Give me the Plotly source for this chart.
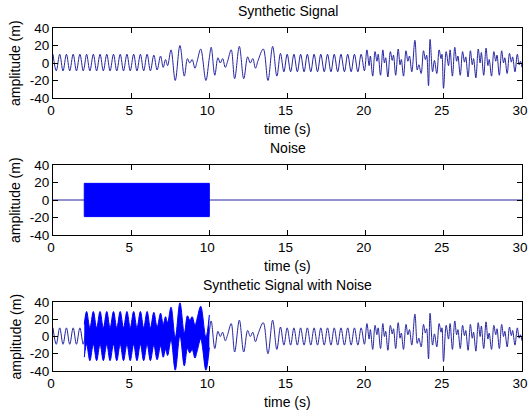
import plotly.graph_objects as go

# Turning points of the synthetic signal (time in s, amplitude in m)
sig_t = [
    0.00, 0.21, 0.43, 0.64, 0.86, 1.07, 1.29, 1.50, 1.72, 1.93, 2.00, 2.15,
    2.36, 2.58, 2.79, 3.01, 3.22, 3.44, 3.65, 3.87, 4.08, 4.30, 4.51, 4.73,
    4.94, 5.16, 5.37, 5.59, 5.80, 6.02, 6.23, 6.45, 6.66, 6.88, 7.05, 7.20,
    7.33, 7.55, 7.82, 8.12, 8.40, 8.60, 8.75, 8.90, 9.08, 9.22, 9.45, 9.78,
    10.00, 10.12, 10.35, 10.55, 10.70, 10.85, 11.02, 11.17, 11.40, 11.62, 11.92, 12.20,
    12.45, 12.62, 12.78, 12.95, 13.12, 13.45, 13.75, 14.05, 14.32, 14.55, 14.77, 14.98,
    15.20, 15.41, 15.63, 15.84, 16.06, 16.27, 16.49, 16.70, 16.92, 17.13, 17.35, 17.56,
    17.78, 17.99, 18.21, 18.42, 18.64, 18.85, 19.07, 19.28, 19.50, 19.71, 19.92, 20.08,
    20.22, 20.30, 20.45, 20.60, 20.72, 20.80, 20.95, 21.10, 21.20, 21.28, 21.42, 21.58,
    21.70, 21.78, 21.92, 22.08, 22.20, 22.28, 22.42, 22.58, 22.70, 22.80, 22.95, 23.15,
    23.30, 23.40, 23.55, 23.70, 23.82, 23.90, 24.02, 24.12, 24.28, 24.40, 24.55, 24.70,
    24.82, 24.88, 24.98, 25.15, 25.30, 25.40, 25.55, 25.70, 25.82, 25.90, 26.05, 26.20,
    26.32, 26.40, 26.55, 26.70, 26.82, 26.90, 27.05, 27.20, 27.32, 27.40, 27.55, 27.70,
    27.82, 27.90, 28.05, 28.20, 28.32, 28.40, 28.55, 28.70, 28.82, 28.90, 29.05, 29.20,
    29.32, 29.40, 29.55, 29.70, 29.82, 29.90, 30.00,
]
sig_v = [
    10, -9, 10, -9, 10, -9, 10, -9, 10, -9, -5, 10,
    -9, 10, -9, 10, -9, 10, -9, 10, -9, 10, -9, 10,
    -9, 10, -9, 10, -9, 10, -9, 9, -8, 8, -5, 4,
    -3, 15, -20, 20, -15, 5, 0, 4, -6, 2, 16, -20,
    6, 18, -14, 6, 0, 5, -5, 2, 15, -18, 19, -18,
    7, 0, 5, -6, 3, 16, -20, 19, -15, 11, -10, 10,
    -10, 10, -10, 10, -10, 10, -10, 10, -10, 10, -10, 10,
    -10, 10, -10, 10, -10, 10, -10, 10, -10, 10, -9, 15,
    -3, 8, -15, 13, 2, 10, -14, 15, 0, 6, -16, 13,
    3, 9, -14, 16, -2, 4, -15, 14, 2, 8, -10, 26,
    -8, -2, -12, 14, 4, 9, -26, 27, -10, 3, -12, 15,
    5, 10, -29, 13, -3, 15, -15, 18, 2, 8, -14, 13,
    1, 7, -16, 14, -2, 5, -17, 16, 0, 12, -14, 17,
    -3, 4, -15, 13, 2, 9, -14, 14, 0, 6, -12, 11,
    1, 7, -10, 10, -2, 2, -5,
]

# Noise burst: active window (s) and peak amplitude (m)
noise_window = [2.0, 10.0]
noise_amp = 19

time_range = [0, 30]
amp_range = [-40, 40]
x_ticks = [0, 5, 10, 15, 20, 25, 30]
y_ticks = [-40, -20, 0, 20, 40]
y_tick_text = ["-40", "-20", "0", "20", "40"]
panel_titles = ["Synthetic Signal", "Noise", "Synthetic Signal with Noise"]
x_title = "time (s)"
y_title = "amplitude (m)"

W, H = 529, 414
FONT = "Liberation Sans, Arial, sans-serif"
THIN = "#2424a0"
SOLID = "#0000ff"

# panel boxes in pixels: (top, bottom)
boxes = [(28, 98), (165, 235), (302, 371)]
x_px = (53, 522)

fig = go.Figure()

# Panel 1: clean signal
fig.add_trace(go.Scatter(x=sig_t, y=sig_v, mode="lines",
                         line=dict(color=THIN, width=1, shape="spline", smoothing=1),
                         xaxis="x", yaxis="y", hoverinfo="skip"))

# Panel 2: noise (flat outside the burst, solid band inside)
t0, t1 = noise_window
fig.add_trace(go.Scatter(x=[time_range[0], t0, t0, t1, t1, time_range[1]],
                         y=[0, 0, 0, 0, 0, 0], mode="lines",
                         line=dict(color=THIN, width=1),
                         xaxis="x2", yaxis="y2", hoverinfo="skip"))
fig.add_trace(go.Scatter(x=[t0, t0, t1, t1, t0],
                         y=[-noise_amp, noise_amp, noise_amp, -noise_amp, -noise_amp],
                         mode="lines", fill="toself", fillcolor=SOLID,
                         line=dict(color=SOLID, width=1),
                         xaxis="x2", yaxis="y2", hoverinfo="skip"))

# Panel 3: signal plus noise
fig.add_trace(go.Scatter(x=sig_t, y=sig_v, mode="lines",
                         line=dict(color=THIN, width=1, shape="spline", smoothing=1),
                         xaxis="x3", yaxis="y3", hoverinfo="skip"))
band_t = [t for t in sig_t if t0 <= t <= t1]
band_v = [v for t, v in zip(sig_t, sig_v) if t0 <= t <= t1]
fig.add_trace(go.Scatter(x=band_t, y=[v - noise_amp for v in band_v], mode="lines",
                         line=dict(color=SOLID, width=1, shape="spline", smoothing=1),
                         xaxis="x3", yaxis="y3", hoverinfo="skip"))
fig.add_trace(go.Scatter(x=band_t, y=[v + noise_amp for v in band_v], mode="lines",
                         fill="tonexty", fillcolor=SOLID,
                         line=dict(color=SOLID, width=1, shape="spline", smoothing=1),
                         xaxis="x3", yaxis="y3", hoverinfo="skip"))

axis_common = dict(showline=True, linecolor="black", linewidth=1, mirror="allticks",
                   ticks="inside", ticklen=5, tickcolor="black", showgrid=False,
                   zeroline=False, automargin=False,
                   tickfont=dict(family=FONT, size=13.5, color="black"),
                   fixedrange=True)

layout = dict(template="none", width=W, height=H, margin=dict(l=0, r=0, t=0, b=0),
              paper_bgcolor="white", plot_bgcolor="white", showlegend=False,
              annotations=[])

for i, (top, bot) in enumerate(boxes):
    suffix = "" if i == 0 else str(i + 1)
    ydom = [1 - bot / H, 1 - top / H]
    layout["xaxis" + suffix] = dict(axis_common, domain=[x_px[0] / W, x_px[1] / W],
                                    range=time_range, tickvals=x_ticks,
                                    ticklabelshift=-2, anchor="y" + suffix)
    layout["yaxis" + suffix] = dict(axis_common, domain=ydom, range=amp_range,
                                    tickvals=y_ticks, ticktext=y_tick_text,
                                    anchor="x" + suffix)
    cx = (x_px[0] + x_px[1]) / 2 / W
    layout["annotations"] += [
        dict(text=panel_titles[i], x=cx, y=1 - (top - 17) / H, xref="paper", yref="paper",
             showarrow=False, xanchor="center", yanchor="middle",
             font=dict(family=FONT, size=14, color="black")),
        dict(text=x_title, x=cx, y=1 - (bot + 31) / H, xref="paper", yref="paper",
             showarrow=False, xanchor="center", yanchor="middle",
             font=dict(family=FONT, size=14, color="black")),
        dict(text=y_title, x=15 / W, y=1 - (top + bot) / 2 / H, xref="paper", yref="paper",
             showarrow=False, xanchor="center", yanchor="middle", textangle=-90,
             font=dict(family=FONT, size=14, color="black")),
    ]

fig.update_layout(**layout)
fig.write_html("out.html")
